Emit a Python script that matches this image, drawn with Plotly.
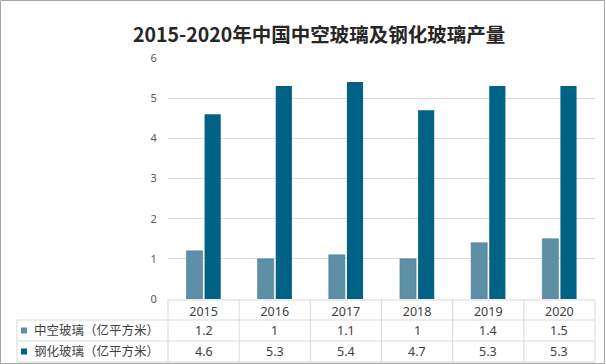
import plotly.graph_objects as go

years = ["2015", "2016", "2017", "2018", "2019", "2020"]
hollow_glass = [1.2, 1, 1.1, 1, 1.4, 1.5]
tempered_glass = [4.6, 5.3, 5.4, 4.7, 5.3, 5.3]
series_names = ["中空玻璃（亿平方米）", "钢化玻璃（亿平方米）"]
title_text = "2015-2020年中国中空玻璃及钢化玻璃产量"

W, H = 606, 364
def X(px):
    return px / W
def Y(py):
    return 1 - py / H

c_light = "#5D8FA7"
c_dark = "#006285"
grid_c = "#D9D9D9"
txt_c = "#404040"
font_fam = "Noto Sans, Noto Sans CJK SC, sans-serif"

fig = go.Figure()
fig.add_trace(go.Bar(x=years, y=hollow_glass, name=series_names[0],
                     marker=dict(color=c_light, line=dict(color="#4F7F97", width=0.6))))
fig.add_trace(go.Bar(x=years, y=tempered_glass, name=series_names[1],
                     marker=dict(color=c_dark, line=dict(width=0))))

x_left, x_right = 168, 595
y_top, y_zero = 58, 299

fig.update_layout(
    width=W, height=H,
    margin=dict(l=0, r=0, t=0, b=0),
    paper_bgcolor="white", plot_bgcolor="white",
    showlegend=False,
    barmode="group", bargap=0.49, bargroupgap=0.11,
    font=dict(family=font_fam, color=txt_c),
    xaxis=dict(domain=[X(x_left), X(x_right)], type="category",
               categoryorder="array", categoryarray=years,
               range=[-0.5, len(years) - 0.5],
               showgrid=False, zeroline=False, showline=False,
               ticks="outside", ticklen=1, tickcolor="rgba(0,0,0,0)",
               tickfont=dict(size=12.5, color=txt_c), automargin=False),
    yaxis=dict(domain=[Y(y_zero), Y(y_top)], range=[0, 6], dtick=1,
               showgrid=True, gridcolor=grid_c, gridwidth=1,
               zeroline=False, showline=False,
               ticks="outside", ticklen=8, tickcolor="rgba(0,0,0,0)",
               tickfont=dict(size=11, color="#595959"), automargin=False),
)

shapes = []
line = dict(color=grid_c, width=1)
shapes.append(dict(type="line", xref="paper", yref="paper", x0=X(x_left), x1=X(x_right), y0=Y(300), y1=Y(300), line=line))
for py in [320, 341, 362]:
    shapes.append(dict(type="line", xref="paper", yref="paper", x0=X(17), x1=X(x_right), y0=Y(py), y1=Y(py), line=line))
shapes.append(dict(type="line", xref="paper", yref="paper", x0=X(17), x1=X(17), y0=Y(320), y1=Y(362), line=line))
n = len(years)
for k in range(n + 1):
    px = x_left + (x_right - x_left) * k / n
    shapes.append(dict(type="line", xref="paper", yref="paper", x0=X(px), x1=X(px), y0=Y(300), y1=Y(362), line=line))
for py, col in [(330.5, c_light), (351.5, c_dark)]:
    shapes.append(dict(type="rect", xref="paper", yref="paper", x0=X(21), x1=X(27), y0=Y(py + 3), y1=Y(py - 3),
                       fillcolor=col, line=dict(width=0)))
shapes.append(dict(type="rect", xref="paper", yref="paper", x0=X(0.5), x1=X(604.5), y0=Y(363.5), y1=Y(0.5),
                   line=dict(color="#A6A6A6", width=1), fillcolor="rgba(0,0,0,0)"))
fig.update_layout(shapes=shapes)

annotations = [dict(text="<b>" + title_text + "</b>", xref="paper", yref="paper", x=X(319), y=Y(33),
                    xanchor="center", yanchor="middle", showarrow=False,
                    font=dict(size=19.5, color="#262626", family="Noto Sans CJK SC, sans-serif"))]
for name, py in zip(series_names, [330.5, 351.5]):
    annotations.append(dict(text=name, xref="paper", yref="paper", x=X(32), y=Y(py), xanchor="left", yanchor="middle",
                            showarrow=False, font=dict(size=12.5, color=txt_c)))
for vals, py in [(hollow_glass, 330.5), (tempered_glass, 351.5)]:
    for i, v in enumerate(vals):
        annotations.append(dict(text=f"{v:g}", xref="x", yref="paper", x=i, y=Y(py), xanchor="center", yanchor="middle",
                                showarrow=False, font=dict(size=12.5, color=txt_c)))
fig.update_layout(annotations=annotations)

fig.write_html("out.html", config={"displayModeBar": False},
               post_script="document.body.style.margin='0';document.body.style.overflow='hidden';")
